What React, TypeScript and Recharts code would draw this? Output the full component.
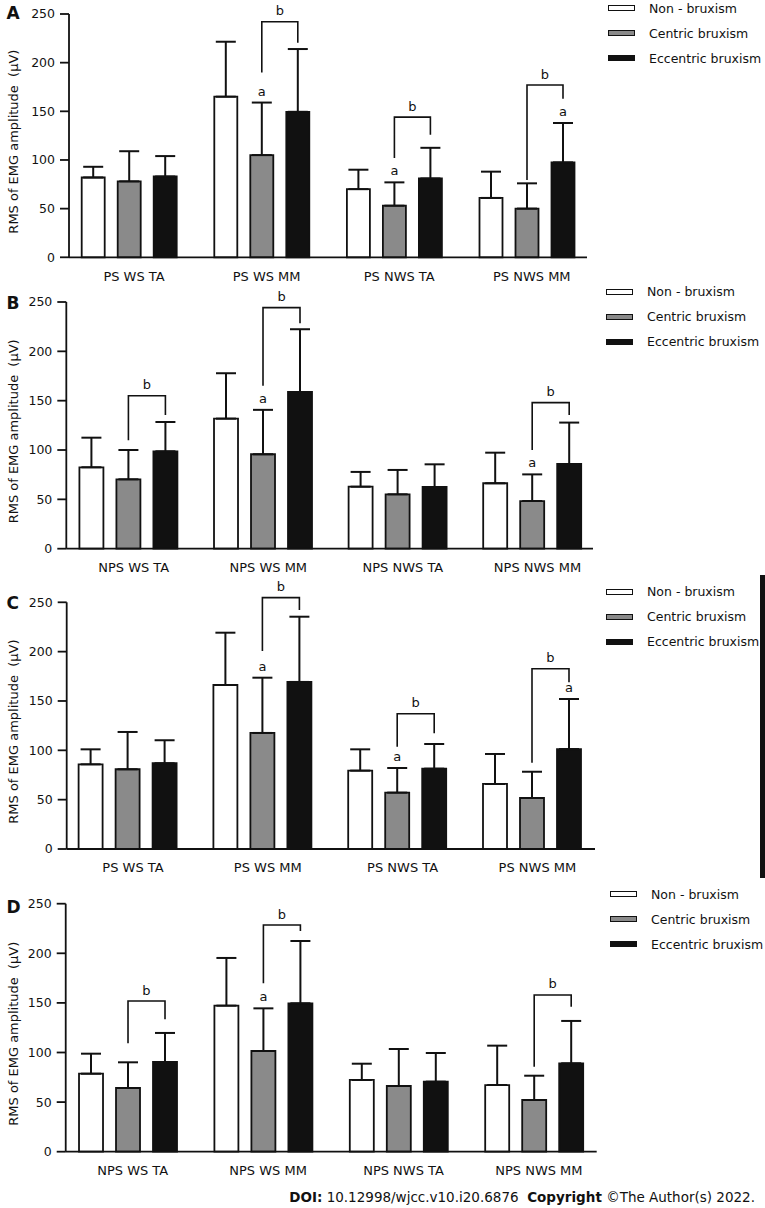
import { Bar, BarChart, ErrorBar, Label, Legend, Rectangle, XAxis, YAxis } from 'recharts';

const psCategories = ['PS WS TA', 'PS WS MM', 'PS NWS TA', 'PS NWS MM'];
const npsCategories = ['NPS WS TA', 'NPS WS MM', 'NPS NWS TA', 'NPS NWS MM'];

const seriesKeys = ['non', 'centric', 'eccentric'] as const;
const seriesNames = ['Non - bruxism', 'Centric bruxism', 'Eccentric bruxism'];
const seriesFills = ['#ffffff', '#8a8a8a', '#111111'];
const yTicks = [0, 50, 100, 150, 200, 250];

// Panel A
const aNon = [82, 165, 70, 61];
const aNonSd = [11, 56.5, 20, 27];
const aCentric = [78, 105, 53, 50];
const aCentricSd = [31, 54, 24, 26];
const aEccentric = [83, 149.5, 81, 97.5];
const aEccentricSd = [21, 64.5, 31.5, 40.5];
// bracket between centric and eccentric: [top, left leg end, right leg end]
const aBrackets = [null, [242, 190, 220.5], [144, 102, 126], [177, 79.5, 163]];
const aMarks = ['', 'centric', 'centric', 'eccentric'];

// Panel B
const bNon = [82.5, 131.8, 62.8, 66.3];
const bNonSd = [30, 46, 15, 31];
const bCentric = [70.3, 95.7, 55.1, 48.3];
const bCentricSd = [29.7, 45, 24.7, 27];
const bEccentric = [98.7, 158.8, 62.5, 85.8];
const bEccentricSd = [29.7, 63.6, 23, 42];
const bBrackets = [[155, 110, 135.5], [244.3, 165, 228.4], null, [148, 100, 135.5]];
const bMarks = ['', 'centric', '', 'centric'];

// Panel C
const cNon = [85.8, 166.2, 79.4, 65.9];
const cNonSd = [15.2, 53, 21.6, 30.4];
const cCentric = [80.8, 117.6, 57.1, 51.7];
const cCentricSd = [37.8, 56, 25, 26.6];
const cEccentric = [86.9, 169.3, 81.4, 101.3];
const cEccentricSd = [23.3, 66.1, 25, 50.7];
const cBrackets = [null, [254.7, 200.7, 242.2], [137.1, 103.7, 117.3], [182.7, 87.5, 169]];
const cMarks = ['', 'centric', 'centric', 'eccentric'];

// Panel D
const dNon = [78.6, 147.2, 72.3, 67.2];
const dNonSd = [20.2, 48.1, 16.4, 39.7];
const dCentric = [64.2, 101.5, 66.2, 52.1];
const dCentricSd = [25.9, 43, 37.3, 24.5];
const dEccentric = [90.4, 149.6, 70.6, 89.1];
const dEccentricSd = [29.3, 62.8, 28.9, 42.7];
const dBrackets = [[151.9, 109.3, 133.4], [228.5, 169.7, 222.5], null, [158, 85.7, 146.2]];
const dMarks = ['', 'centric', '', ''];

const buildRows = (
  cats: string[],
  non: number[], nonSd: number[],
  centric: number[], centricSd: number[],
  eccentric: number[], eccentricSd: number[],
  brackets: (number[] | null)[], marks: string[],
) =>
  cats.map((name, i) => ({
    name,
    non: non[i], nonSd: nonSd[i], nonErr: [0, nonSd[i]],
    centric: centric[i], centricSd: centricSd[i], centricErr: [0, centricSd[i]],
    eccentric: eccentric[i], eccentricSd: eccentricSd[i], eccentricErr: [0, eccentricSd[i]],
    bracket: brackets[i],
    mark: marks[i],
  }));

const panels = [
  {
    letter: 'A', cats: psCategories,
    rows: buildRows(psCategories, aNon, aNonSd, aCentric, aCentricSd, aEccentric, aEccentricSd, aBrackets, aMarks),
    top: 0, plotTop: 14, plotBottom: 257.3, axisX: 69, axisEnd: 587, padL: -6.3, padR: -6.1,
    barSize: 23, barGap: 13, legendX: 608, legendY: 8.3,
  },
  {
    letter: 'B', cats: npsCategories,
    rows: buildRows(npsCategories, bNon, bNonSd, bCentric, bCentricSd, bEccentric, bEccentricSd, bBrackets, bMarks),
    top: 280, plotTop: 302, plotBottom: 548.7, axisX: 66.3, axisEnd: 593, padL: -4.9, padR: -6.8,
    barSize: 24, barGap: 13, legendX: 606, legendY: 291.7,
  },
  {
    letter: 'C', cats: psCategories,
    rows: buildRows(psCategories, cNon, cNonSd, cCentric, cCentricSd, cEccentric, cEccentricSd, cBrackets, cMarks),
    top: 570, plotTop: 602.3, plotBottom: 849, axisX: 66.7, axisEnd: 595, padL: -6.1, padR: -4.8,
    barSize: 24, barGap: 13, legendX: 606, legendY: 591.7,
  },
  {
    letter: 'D', cats: npsCategories,
    rows: buildRows(npsCategories, dNon, dNonSd, dCentric, dCentricSd, dEccentric, dEccentricSd, dBrackets, dMarks),
    top: 870, plotTop: 903.7, plotBottom: 1151.7, axisX: 65.7, axisEnd: 596.7, padL: -5.7, padR: -4.9,
    barSize: 24, barGap: 13, legendX: 610, legendY: 894,
  },
];

const INK = '#111111';
const X_AXIS_H = 30;

// bar + its significance marks, positioned with the bar's own scale
const makeShape = (key: string, pitch: number) => (props: any) => {
  const { x, y, width, height } = props;
  const row = props.payload ?? props;
  const value = row[key];
  const base = y + height;
  const ppu = value ? height / value : 0;
  const toY = (v: number) => base - v * ppu;
  const cx = x + width / 2;
  const capY = toY(value + row[`${key}Sd`]);
  const br = key === 'centric' ? row.bracket : null;
  return (
    <g>
      <Rectangle x={x} y={y} width={width} height={height} fill={props.fill} stroke={INK} strokeWidth={1.8} />
      {row.mark === key && (
        <text x={cx} y={capY - 7} textAnchor="middle" fontSize={13} fill={INK}>a</text>
      )}
      {br && (
        <g>
          <path
            d={`M${cx},${toY(br[1])}V${toY(br[0])}H${cx + pitch}V${toY(br[2])}`}
            fill="none"
            stroke={INK}
            strokeWidth={1.6}
          />
          <text x={cx + pitch / 2} y={toY(br[0]) - 6.5} textAnchor="middle" fontSize={13} fill={INK}>b</text>
        </g>
      )}
    </g>
  );
};

const LegendBox = () => (
  <div style={{ fontSize: 12.5, color: INK, whiteSpace: 'nowrap' }}>
    {seriesNames.map((name, i) => (
      <div key={name} style={{ display: 'flex', alignItems: 'center', height: 25 }}>
        <span
          style={{
            display: 'inline-block', width: 27, height: 6, background: seriesFills[i],
            border: `1.2px solid ${INK}`, boxSizing: 'border-box', marginRight: 14,
          }}
        />
        <span>{name}</span>
      </div>
    ))}
  </div>
);

const Panel = ({ p }: { p: (typeof panels)[number] }) => {
  const plotH = p.plotBottom - p.plotTop;
  const chartH = p.plotTop - p.top + plotH + X_AXIS_H;
  const pitch = p.barSize + p.barGap;
  return (
    <div style={{ position: 'absolute', left: 0, top: p.top }}>
      <BarChart
        width={765}
        height={chartH}
        data={p.rows}
        margin={{ top: p.plotTop - p.top, right: 765 - p.axisEnd, bottom: 0, left: 0 }}
        barSize={p.barSize}
        barGap={p.barGap}
      >
        <XAxis
          dataKey="name"
          interval={0}
          height={X_AXIS_H}
          padding={{ left: p.padL, right: p.padR }}
          tickLine={false}
          tickSize={0}
          tickMargin={14}
          tick={{ fontSize: 13, fill: INK, dx: 5 }}
          axisLine={{ stroke: INK, strokeWidth: 1.8 }}
        />
        <YAxis
          width={p.axisX}
          domain={[0, 250]}
          ticks={yTicks}
          interval={0}
          tickSize={9}
          tickMargin={5}
          tick={{ fontSize: 12.5, fill: INK }}
          tickLine={{ stroke: INK, strokeWidth: 1.8 }}
          axisLine={{ stroke: INK, strokeWidth: 1.8 }}
        >
          <Label
            content={(lp: any) => {
              const vb = lp.viewBox ?? {};
              const cy = (vb.y ?? 0) + (vb.height ?? 0) / 2 + 6;
              return (
                <text
                  x={18}
                  y={cy}
                  transform={`rotate(-90 18 ${cy})`}
                  textAnchor="middle"
                  fontSize={13}
                  fill={INK}
                  style={{ whiteSpace: 'pre' }}
                >
                  {'RMS of EMG amplitude  (μV)'}
                </text>
              );
            }}
          />
        </YAxis>
        <Legend
          layout="vertical"
          align="center"
          verticalAlign="middle"
          content={<LegendBox />}
          wrapperStyle={{ position: 'absolute', left: p.legendX, top: p.legendY - p.top - 12.5, width: 160, height: 75 }}
        />
        {seriesKeys.map((key, i) => (
          <Bar
            key={key}
            dataKey={key}
            name={seriesNames[i]}
            fill={seriesFills[i]}
            isAnimationActive={false}
            shape={makeShape(key, pitch)}
          >
            <ErrorBar dataKey={`${key}Err`} width={10} stroke={INK} strokeWidth={2} direction="y" />
          </Bar>
        ))}
      </BarChart>
    </div>
  );
};

const letterBaselines = [18.5, 309.3, 609.3, 913.3];

export default function App() {
  return (
    <div
      style={{
        position: 'absolute', left: 0, top: 0, width: 765, height: 1208,
        background: '#ffffff', fontFamily: '"DejaVu Sans", Verdana, sans-serif', overflow: 'hidden',
      }}
    >
      {panels.map((p) => (
        <Panel key={p.letter} p={p} />
      ))}
      <svg width={765} height={1208} style={{ position: 'absolute', left: 0, top: 0, pointerEvents: 'none' }}>
        {panels.map((p, i) => (
          <text key={p.letter} x={6.5} y={letterBaselines[i]} fontSize={17} fontWeight="bold" fill={INK}>
            {p.letter}
          </text>
        ))}
        <rect x={760} y={575} width={5} height={303} fill={INK} />
        <text x={755} y={1202} textAnchor="end" fontSize={13.5} fill={INK} style={{ whiteSpace: 'pre' }}>
          <tspan fontWeight="bold">DOI:</tspan>
          <tspan>{' 10.12998/wjcc.v10.i20.6876  '}</tspan>
          <tspan fontWeight="bold">Copyright</tspan>
          <tspan>{' ©The Author(s) 2022.'}</tspan>
        </text>
      </svg>
    </div>
  );
}
